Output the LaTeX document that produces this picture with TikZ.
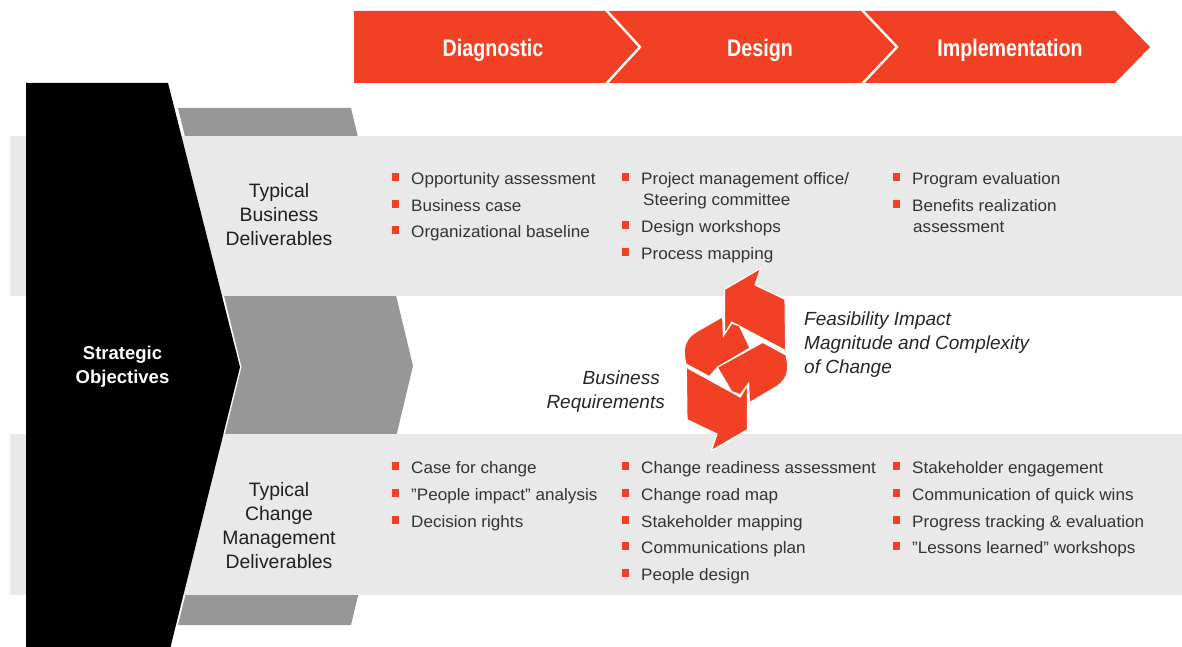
\documentclass[tikz,border=0pt]{standalone}
\usepackage{fontspec}
\setmainfont{Liberation Sans}
\newfontfamily\headfont[FakeStretch=0.82]{Liberation Sans}
\newfontfamily\itemfont[FakeStretch=1.03]{Liberation Sans}
\definecolor{brandred}{HTML}{F14023}
\definecolor{bandgrey}{HTML}{E9E9E9}
\definecolor{midgrey}{HTML}{969796}
\definecolor{bodytext}{HTML}{333333}
\tikzset{
  redshape/.style={fill=brandred,draw=white,line width=1.1pt,line join=miter},
  headlabel/.style={font=\headfont\fontsize{24}{28}\selectfont\bfseries,text=white,inner sep=0pt},
  sidelabel/.style={font=\fontsize{19.4}{24}\selectfont,text=black!88,inner sep=0pt,align=center},
  itemtext/.style={font=\itemfont\fontsize{16.6}{20}\selectfont,text=bodytext,inner sep=0pt,anchor=mid west},
  notetext/.style={font=\fontsize{19}{24}\selectfont\itshape,text=black!85,inner sep=0pt},
  bulletmark/.style={fill=brandred,draw=none,minimum size=7.5pt,inner sep=0pt,rectangle,anchor=center}
}
\newcommand{\bitem}[4]{% name, bullet x, y, text
  \node[bulletmark] (#1b) at (#2,#3-1) {};
  \node[itemtext] (#1) at (#2+15.5,#3+3.5) {#4};
}
\begin{document}
\begin{tikzpicture}[x=1pt,y=-1pt]
\useasboundingbox (0,0) rectangle (1182,647);
\fill[white] (0,0) rectangle (1182,647);
% header
\fill[brandred] (354,11) -- (1115,11) -- (1150,47) -- (1115,83) -- (354,83) -- cycle;
\draw[white,line width=2.4pt,miter limit=10] (606,10) -- (640,47) -- (606,84);
\draw[white,line width=2.4pt,miter limit=10] (862,10) -- (897,47) -- (862,84);
\node[headlabel] (diag) at (493,50) {Diagnostic};
\node[headlabel] (desg) at (760,50) {Design};
\node[headlabel] (impl) at (1010,50) {Implementation};
% grey chevron
\fill[midgrey] (178,108) -- (351,108) -- (413,366) -- (351,625) -- (178,625) -- (241.5,367) -- cycle;
% bands
\fill[bandgrey] (10,136) rectangle (1182,296);
\fill[bandgrey] (10,434) rectangle (1182,595);
% black chevron
\fill[black] (26,83) -- (168,83) -- (240,367) -- (170.5,647) -- (26,647) -- cycle;
\node[font=\fontsize{18.5}{24}\selectfont\bfseries,text=white,align=center,inner sep=0pt] (strat) at (122.5,366.5) {Strategic\\Objectives};
\node[sidelabel] (tbd) at (279,215) {Typical\\Business\\Deliverables};
\node[sidelabel] (tcm) at (279,526) {Typical\\Change\\Management\\Deliverables};
% business items
\bitem{a1}{395.5}{178}{Opportunity assessment}
\bitem{a2}{395.5}{205}{Business case}
\bitem{a3}{395.5}{231}{Organizational baseline}
\bitem{b1}{625.5}{178}{Project management office/}
\node[itemtext] (b1x) at (643,202.5) {Steering committee};
\bitem{b2}{625.5}{226}{Design workshops}
\bitem{b3}{625.5}{253}{Process mapping}
\bitem{c1}{896.5}{178}{Program evaluation}
\bitem{c2}{896.5}{205}{Benefits realization}
\node[itemtext] (c2x) at (913,229.5) {assessment};
% change items
\bitem{d1}{395.5}{467}{Case for change}
\bitem{d2}{395.5}{494}{”People impact” analysis}
\bitem{d3}{395.5}{521}{Decision rights}
\bitem{e1}{625.5}{467}{Change readiness assessment}
\bitem{e2}{625.5}{494}{Change road map}
\bitem{e3}{625.5}{521}{Stakeholder mapping}
\bitem{e4}{625.5}{547}{Communications plan}
\bitem{e5}{625.5}{574}{People design}
\bitem{f1}{896.5}{467}{Stakeholder engagement}
\bitem{f2}{896.5}{494}{Communication of quick wins}
\bitem{f3}{896.5}{521}{Progress tracking \& evaluation}
\bitem{f4}{896.5}{547}{”Lessons learned” workshops}
% cycle icon
\begin{scope}[shift={(640,260)},x=0.3333pt,y=-0.3333pt]
\draw[redshape] (254,88) -- (362,25) -- (345,75) -- (435,118) -- (437,272) -- (275,186) -- (254,222) -- cycle;
\draw[redshape] (248,170) -- (175,212) .. controls (145,228) and (133,250) .. (133,275) .. controls (133,290) and (135,300) .. (138,312) -- (208,350) -- (232,322) -- (330,264) -- (298,197) -- (275,190) -- (250,228) -- cycle;
\draw[redshape] (322,509) -- (214,572) -- (231,522) -- (141,479) -- (139,322) -- (301,411) -- (322,375) -- cycle;
\draw[redshape] (328,428) -- (401,385) .. controls (431,369) and (443,347) .. (443,322) .. controls (443,307) and (441,297) .. (438,285) -- (368,247) -- (232,322) -- (275,395) -- (301,404) -- (326,369) -- cycle;
\end{scope}
% notes
\node[notetext,anchor=mid west] (fi1) at (804,323) {Feasibility Impact};
\node[notetext,anchor=mid west] (fi2) at (804,347) {Magnitude and Complexity};
\node[notetext,anchor=mid west] (fi3) at (804,371) {of Change};
\node[notetext,anchor=mid east] (br1) at (660,381.5) {Business};
\node[notetext,anchor=mid east] (br2) at (665,405.5) {Requirements};
\end{tikzpicture}
\end{document}
